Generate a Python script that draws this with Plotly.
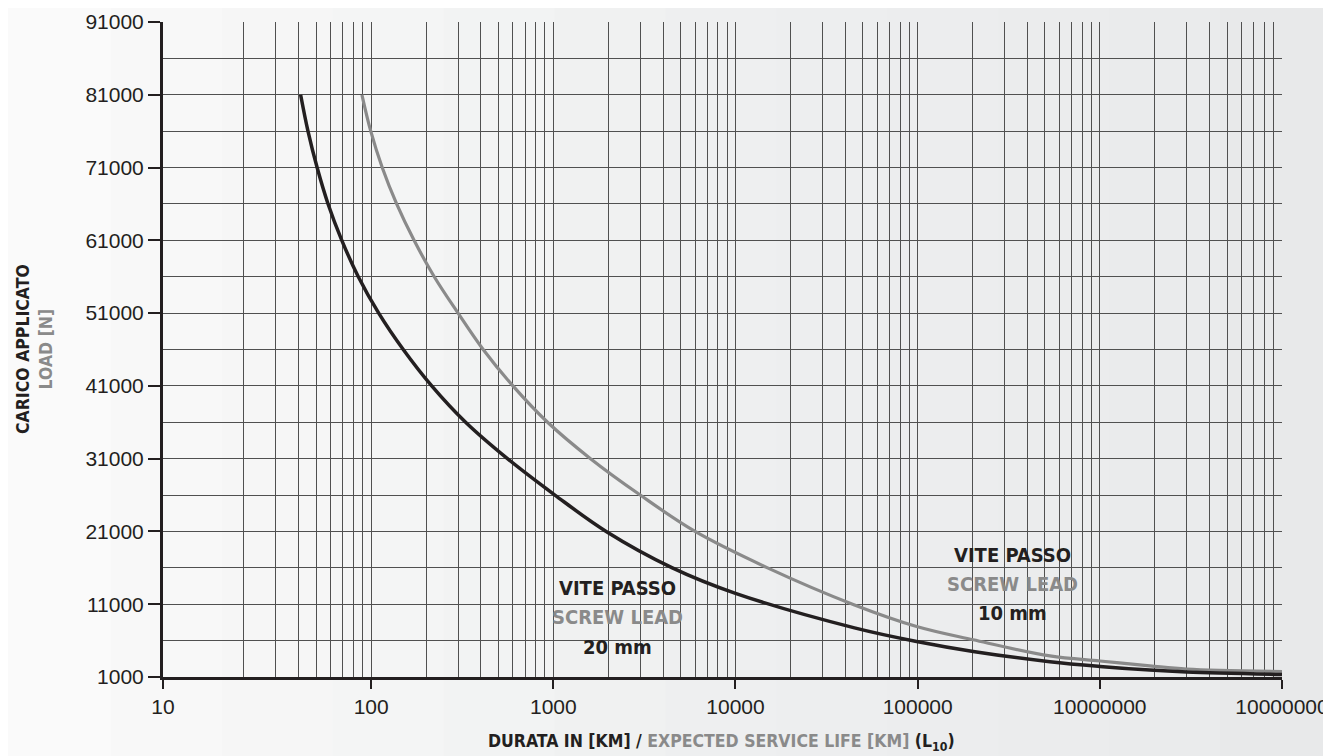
import numpy as np
import plotly.graph_objects as go

# ---------------- data ----------------
lead20_life_km = [41, 45, 50.5, 58, 69, 85, 110, 150, 215, 330, 560, 1020,
                  1950, 4500, 10000, 45000, 98700, 201800, 532000,
                  1000000, 1880000, 3000000, 10000000]
lead20_load_n = [81000, 76000, 71000, 66000, 61000, 56000, 51000, 46000, 41000,
                 36000, 31000, 26000, 21000, 16000, 12500, 7750,
                 5880, 4510, 3100, 2450, 1950, 1700, 1350]

lead10_life_km = [89, 99.5, 115, 138, 172, 222, 300, 412, 600, 930, 1600,
                  3000, 6000, 15000, 45000, 98700, 201800, 532000, 1000000,
                  1880000, 3000000, 10000000]
lead10_load_n = [81000, 76000, 71000, 66000, 61000, 56000, 51000, 46000, 41000,
                 36000, 31000, 26000, 21000, 16000, 10900, 7940, 6110,
                 3900, 3200, 2540, 2100, 1750]

x_tick_values = [7.2, 100, 1000, 10000, 100000, 1000000, 10000000]
x_tick_text = ["10", "100", "1000", "10000", "100000", "10000000", "10000000"]
x_minor_values = [m * 10 ** d for d in range(1, 7) for m in range(2, 10)]

y_tick_values = list(range(1000, 91001, 10000))
y_tick_text = [str(v) for v in y_tick_values]
y_minor_values = list(range(6000, 86001, 10000))

label_20 = ["VITE PASSO", "SCREW LEAD", "20 mm"]
label_10 = ["VITE PASSO", "SCREW LEAD", "10 mm"]

DARK = "#231f20"
GREY = "#8a8a8a"
GRID = "#505050"
COND = "Liberation Sans Narrow, Arial Narrow, DejaVu Sans Condensed, sans-serif"
REG = "Liberation Sans, Arial, Helvetica, sans-serif"

fig = go.Figure()

fig.add_trace(go.Scatter(x=lead10_life_km, y=lead10_load_n, mode="lines",
                         line=dict(color=GREY, width=3.2, shape="spline", smoothing=1.0),
                         showlegend=False, hoverinfo="skip"))
fig.add_trace(go.Scatter(x=lead20_life_km, y=lead20_load_n, mode="lines",
                         line=dict(color=DARK, width=3.5, shape="spline", smoothing=1.0),
                         showlegend=False, hoverinfo="skip"))

# the page body has an 8px margin, so the figure is placed at (8, 8)
OFF = 8
W, H = 1331 - OFF, 756 - OFF
L_M, R_M, T_M, B_M = 163 - OFF, 49, 22 - OFF, 79
pw = W - L_M - R_M
ph = H - T_M - B_M


def px_x(v):
    return (v - OFF - L_M) / pw


def px_y(v):
    return (H - (v - OFF) - B_M) / ph


# background bands (soft light-grey gradient, left to right)
shades = ["#fafafa", "#f8f8f8", "#f6f6f6", "#f4f5f5", "#f2f3f3", "#f0f1f1",
          "#eeeff0", "#edeeef", "#ecedee", "#ebeced", "#eaebec", "#e8e9ea"]
n = len(shades)
shapes = []
for i, c in enumerate(shades):
    shapes.append(dict(type="rect", xref="paper", yref="paper",
                       x0=px_x(i * 1331 / n), x1=px_x((i + 1) * 1331 / n) + 0.002,
                       y0=px_y(760), y1=px_y(0),
                       fillcolor=c, line=dict(width=0), layer="below"))

annotations = []
line_colors = [DARK, GREY, DARK]
for labels, cx, ys in ((label_20, 617, (588, 617, 647)), (label_10, 1012, (555, 584, 613))):
    for txt, col, yy in zip(labels, line_colors, ys):
        annotations.append(dict(x=px_x(cx), y=px_y(yy), xref="paper", yref="paper",
                                xanchor="center", yanchor="middle", showarrow=False,
                                text="<b>%s</b>" % txt,
                                font=dict(family=COND, size=20, color=col)))

annotations.append(dict(
    x=px_x(721), y=px_y(743), xref="paper", yref="paper",
    xanchor="center", yanchor="middle",
    text=("<b>DURATA IN [KM] / <span style='color:%s'>EXPECTED SERVICE LIFE [KM]</span> (L<sub>10</sub>)</b>" % GREY),
    showarrow=False, font=dict(family=COND, size=17.5, color=DARK)))
annotations.append(dict(
    x=px_x(34), y=px_y(349), xref="paper", yref="paper",
    xanchor="center", yanchor="middle",
    text=("<b>CARICO APPLICATO</b><br><b><span style='color:%s'>LOAD [N]</span></b>" % GREY),
    textangle=-90, showarrow=False, font=dict(family=COND, size=17.5, color=DARK),
    align="center"))

fig.update_layout(
    width=W, height=H,
    margin=dict(l=L_M, r=R_M, t=T_M, b=B_M, autoexpand=False),
    paper_bgcolor="#f3f3f3",
    plot_bgcolor="rgba(0,0,0,0)",
    shapes=shapes,
    annotations=annotations,
    xaxis=dict(type="log", range=[np.log10(7.2), 7], automargin=False,
               tickmode="array", tickvals=x_tick_values, ticktext=x_tick_text,
               ticks="outside", ticklen=9, tickwidth=1.5, tickcolor=DARK,
               showgrid=True, gridcolor=GRID, gridwidth=1.2,
               minor=dict(tickmode="array", tickvals=x_minor_values, showgrid=True,
                          gridcolor=GRID, gridwidth=1.2, ticks=""),
               showline=True, linecolor=DARK, linewidth=3,
               tickfont=dict(family=REG, size=21, color=DARK),
               zeroline=False, fixedrange=True),
    yaxis=dict(range=[1000, 91000], automargin=False,
               tickmode="array", tickvals=y_tick_values, ticktext=y_tick_text,
               ticks="outside", ticklen=12, tickwidth=1.5, tickcolor=DARK,
               showgrid=True, gridcolor=GRID, gridwidth=1.2,
               minor=dict(tickmode="array", tickvals=y_minor_values, showgrid=True,
                          gridcolor=GRID, gridwidth=1.2, ticks=""),
               showline=True, linecolor=DARK, linewidth=3,
               tickfont=dict(family=REG, size=21, color=DARK),
               zeroline=False, fixedrange=True),
)

fig.write_html("out.html")
